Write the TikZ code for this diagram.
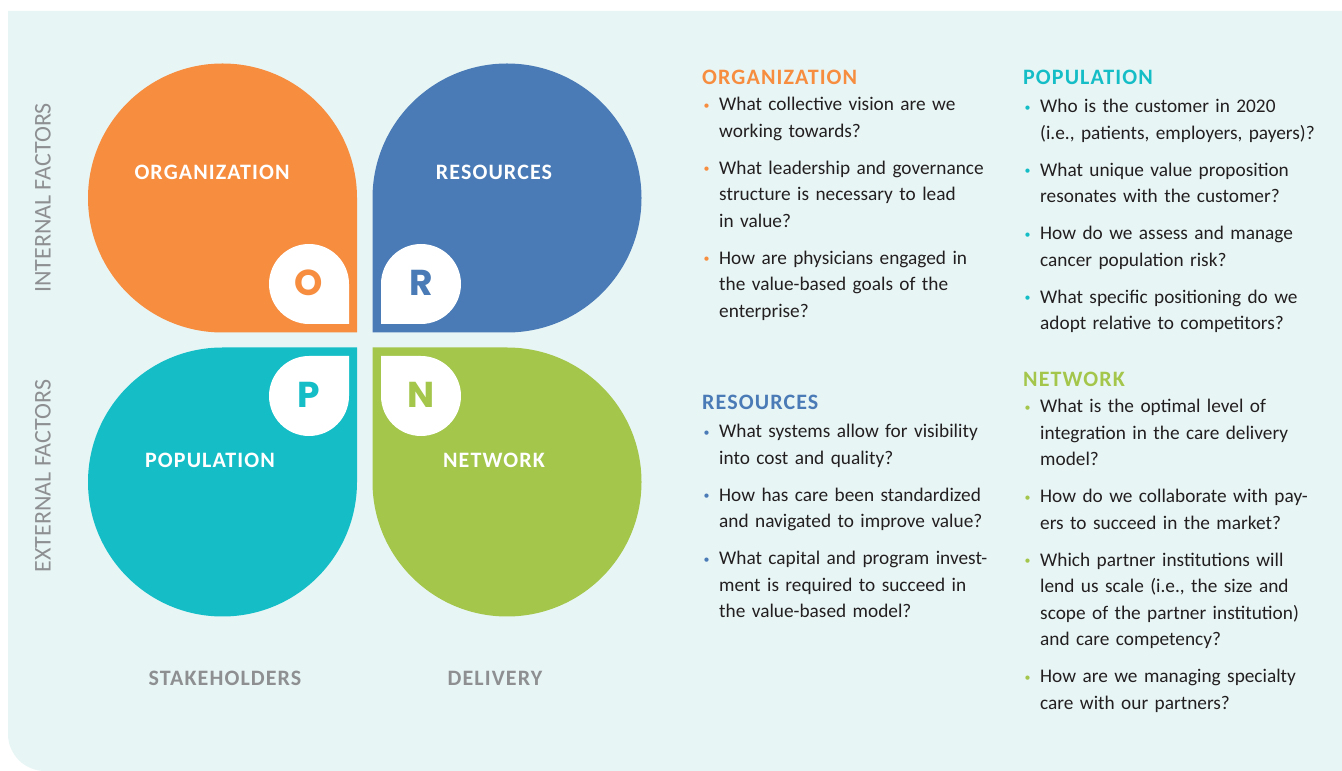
\documentclass[tikz,border=0pt]{standalone}
\usepackage{fontspec}
\setmainfont{Carlito}
\newfontfamily\capsfont{Carlito}[LetterSpace=5.0]
\newfontfamily\letterfont{Poppins}
\usetikzlibrary{positioning}
\definecolor{panel}{RGB}{232,245,245}
\definecolor{orgcol}{RGB}{246,141,63}
\definecolor{rescol}{RGB}{74,123,182}
\definecolor{popcol}{RGB}{21,190,199}
\definecolor{netcol}{RGB}{163,198,75}
\definecolor{axisgray}{RGB}{141,143,145}
\definecolor{textdark}{RGB}{35,31,32}

% quarter-cut disc, square corner pointing to -45 deg before rotation
\newcommand{\petal}[5]{%
  \fill[#5, shift={(#1,#2)}, rotate=#4]
    (#3,-#3) -- (0,-#3) arc[start angle=270, end angle=0, radius=#3pt] -- cycle;}
% one bulleted question, \nl breaks inside it
\newcommand{\nl}{\hfil\break}
\newcommand{\qitem}[2]{\noindent\hangindent=17pt\hangafter=1%
  \makebox[17pt][l]{\hspace{1.5pt}\raisebox{1.5pt}{\textcolor{#1}{\fontsize{12}{12}\selectfont\textbullet}}}#2\par\vspace{10.5pt}}

\tikzset{
  petallabel/.style = {inner sep=0pt, text=white,
                       font=\capsfont\bfseries\fontsize{22}{22}\selectfont},
  axislabel/.style  = {inner sep=0pt, text=axisgray,
                       font=\capsfont\bfseries\fontsize{22}{22}\selectfont},
  factor/.style     = {inner sep=0pt, text=axisgray, rotate=90,
                       font=\fontsize{24}{24}\selectfont},
  badge/.style      = {inner sep=0pt, font=\letterfont\bfseries\fontsize{36}{36}\selectfont},
  head/.style       = {anchor=base west, inner sep=0pt,
                       font=\capsfont\bfseries\fontsize{22}{22}\selectfont},
  qlist/.style      = {anchor=base west, inner sep=0pt, text width=330pt,
                       text=textdark, font=\raggedright\fontsize{19.3}{26.5}\selectfont}
}

\begin{document}
\begin{tikzpicture}[x=1pt, y=1pt]
  \useasboundingbox[fill=white] (0,0) rectangle (1342,771);
  \fill[panel] (8,760) -- (1342,760) -- (1342,0) -- (45,0)
    arc[start angle=270, end angle=180, radius=37pt] -- cycle;

  % the four leaves
  \petal{222.5}{573}{134.5}{0}{orgcol}
  \petal{507}{573}{134.5}{-90}{rescol}
  \petal{222.5}{289}{134.5}{90}{popcol}
  \petal{507}{289}{134.5}{180}{netcol}
  % letter badges
  \petal{309}{487}{40}{0}{white}
  \petal{421}{487}{40}{-90}{white}
  \petal{309}{375}{40}{90}{white}
  \petal{421}{375}{40}{180}{white}
  \node[badge, text=orgcol] (o_badge) at (309,488) {O};
  \node[badge, text=rescol] (r_badge) at (421,488) {R};
  \node[badge, text=popcol] (p_badge) at (309,376) {P};
  \node[badge, text=netcol] (n_badge) at (421,376) {N};

  \node[petallabel] (org) at (212,599) {ORGANIZATION};
  \node[petallabel] (res) at (494,599) {RESOURCES};
  \node[petallabel] (pop) at (210,311) {POPULATION};
  \node[petallabel] (net) at (494,311) {NETWORK};

  \node[factor] (internal) at (43,573) {INTERNAL FACTORS};
  \node[factor] (external) at (43,295) {EXTERNAL FACTORS};
  \node[axislabel] (stake) at (225,93) {STAKEHOLDERS};
  \node[axislabel] (deliv) at (495,93) {DELIVERY};

  % questions, left column
  \node[head, text=orgcol] (org_head) at (702,686) {ORGANIZATION};
  \node[qlist] (org_q) at (702,660) {%
    \qitem{orgcol}{What collective vision are we\nl working towards?}
    \qitem{orgcol}{What leadership and governance\nl structure is necessary to lead\nl in value?}
    \qitem{orgcol}{How are physicians engaged in\nl the value-based goals of the\nl enterprise?}};

  \node[head, text=rescol] (res_head) at (702,361) {RESOURCES};
  \node[qlist] (res_q) at (702,333) {%
    \qitem{rescol}{What systems allow for visibility\nl into cost and quality?}
    \qitem{rescol}{How has care been standardized\nl and navigated to improve value?}
    \qitem{rescol}{What capital and program invest-\nl ment is required to succeed in\nl the value-based model?}};

  % questions, right column
  \node[head, text=popcol] (pop_head) at (1023,686) {POPULATION};
  \node[qlist] (pop_q) at (1023,658) {%
    \qitem{popcol}{Who is the customer in 2020\nl (i.e., patients, employers, payers)?}
    \qitem{popcol}{What unique value proposition\nl resonates with the customer?}
    \qitem{popcol}{How do we assess and manage\nl cancer population risk?}
    \qitem{popcol}{What specific positioning do we\nl adopt relative to competitors?}};

  \node[head, text=netcol] (net_head) at (1023,384) {NETWORK};
  \node[qlist] (net_q) at (1023,358) {%
    \qitem{netcol}{What is the optimal level of\nl integration in the care delivery\nl model?}
    \qitem{netcol}{How do we collaborate with pay-\nl ers to succeed in the market?}
    \qitem{netcol}{Which partner institutions will\nl lend us scale (i.e., the size and\nl scope of the partner institution)\nl and care competency?}
    \qitem{netcol}{How are we managing specialty\nl care with our partners?}};
\end{tikzpicture}
\end{document}
